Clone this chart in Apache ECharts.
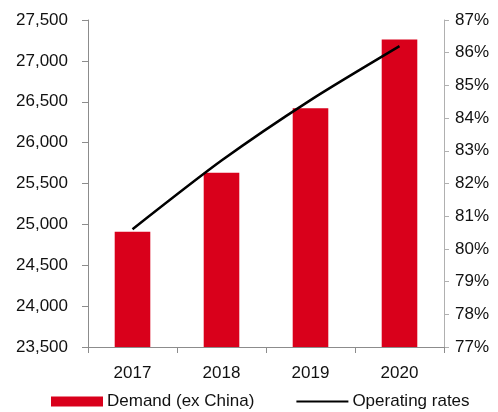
<!DOCTYPE html>
<html>
<head>
<meta charset="utf-8">
<script src="https://cdn.jsdelivr.net/npm/echarts@6/dist/echarts.min.js"></script>
<style>
  html, body { margin: 0; padding: 0; background: #fff; }
  #chart { width: 498px; height: 412px; }
</style>
</head>
<body>
<div id="chart"></div>
<script>
// Years on the category axis
const years = ['2017', '2018', '2019', '2020'];
// Demand excluding China (left axis)
const demandExChina = [24910, 25630, 26420, 27260];
// Operating rates in percent (right axis)
const operatingRates = [80.6, 82.7, 84.55, 86.2];

const axisGrey = '#8c8c8c';
const textStyle = { color: '#111', fontFamily: '"Liberation Sans", Arial, sans-serif', fontSize: 17 };

const chart = echarts.init(document.getElementById('chart'), null, { renderer: 'canvas' });
chart.setOption({
  animation: false,
  grid: { left: 88, right: 54, top: 20, bottom: 65, containLabel: false },
  legend: {
    left: 51,
    top: 393,
    padding: 0,
    itemGap: 42,
    itemWidth: 52,
    itemHeight: 10,
    textStyle: Object.assign({}, textStyle, { padding: [0, 0, 0, -1] }),
    data: [
      { name: 'Demand (ex China)', icon: 'rect' },
      { name: 'Operating rates', icon: 'path://M0,4 L52,4 L52,6 L0,6 Z', itemStyle: { color: '#000' } }
    ]
  },
  xAxis: {
    type: 'category',
    data: years,
    axisLine: { lineStyle: { color: axisGrey, width: 1 } },
    axisTick: { show: true, alignWithLabel: false, length: 6, lineStyle: { color: axisGrey } },
    axisLabel: Object.assign({ margin: 18 }, textStyle)
  },
  yAxis: [
    {
      type: 'value',
      min: 23500,
      max: 27500,
      interval: 500,
      position: 'left',
      splitLine: { show: false },
      axisLine: { show: true, lineStyle: { color: axisGrey } },
      axisTick: { show: true, length: 6, lineStyle: { color: axisGrey } },
      axisLabel: Object.assign({
        margin: 20,
        formatter: v => v.toLocaleString('en-US')
      }, textStyle)
    },
    {
      type: 'value',
      min: 77,
      max: 87,
      interval: 1,
      position: 'right',
      splitLine: { show: false },
      axisLine: { show: true, lineStyle: { color: '#b0b0b0' } },
      axisTick: { show: true, length: 5, lineStyle: { color: '#b0b0b0' } },
      axisLabel: Object.assign({ margin: 11, formatter: v => v + '%' }, textStyle)
    }
  ],
  series: [
    {
      name: 'Demand (ex China)',
      type: 'bar',
      data: demandExChina,
      barWidth: '40%',
      itemStyle: { color: '#d9001b' }
    },
    {
      name: 'Operating rates',
      type: 'line',
      yAxisIndex: 1,
      data: operatingRates,
      smooth: 0.25,
      symbol: 'none',
      lineStyle: { color: '#000', width: 2.5 },
      itemStyle: { color: '#000' }
    }
  ]
});
</script>
</body>
</html>
